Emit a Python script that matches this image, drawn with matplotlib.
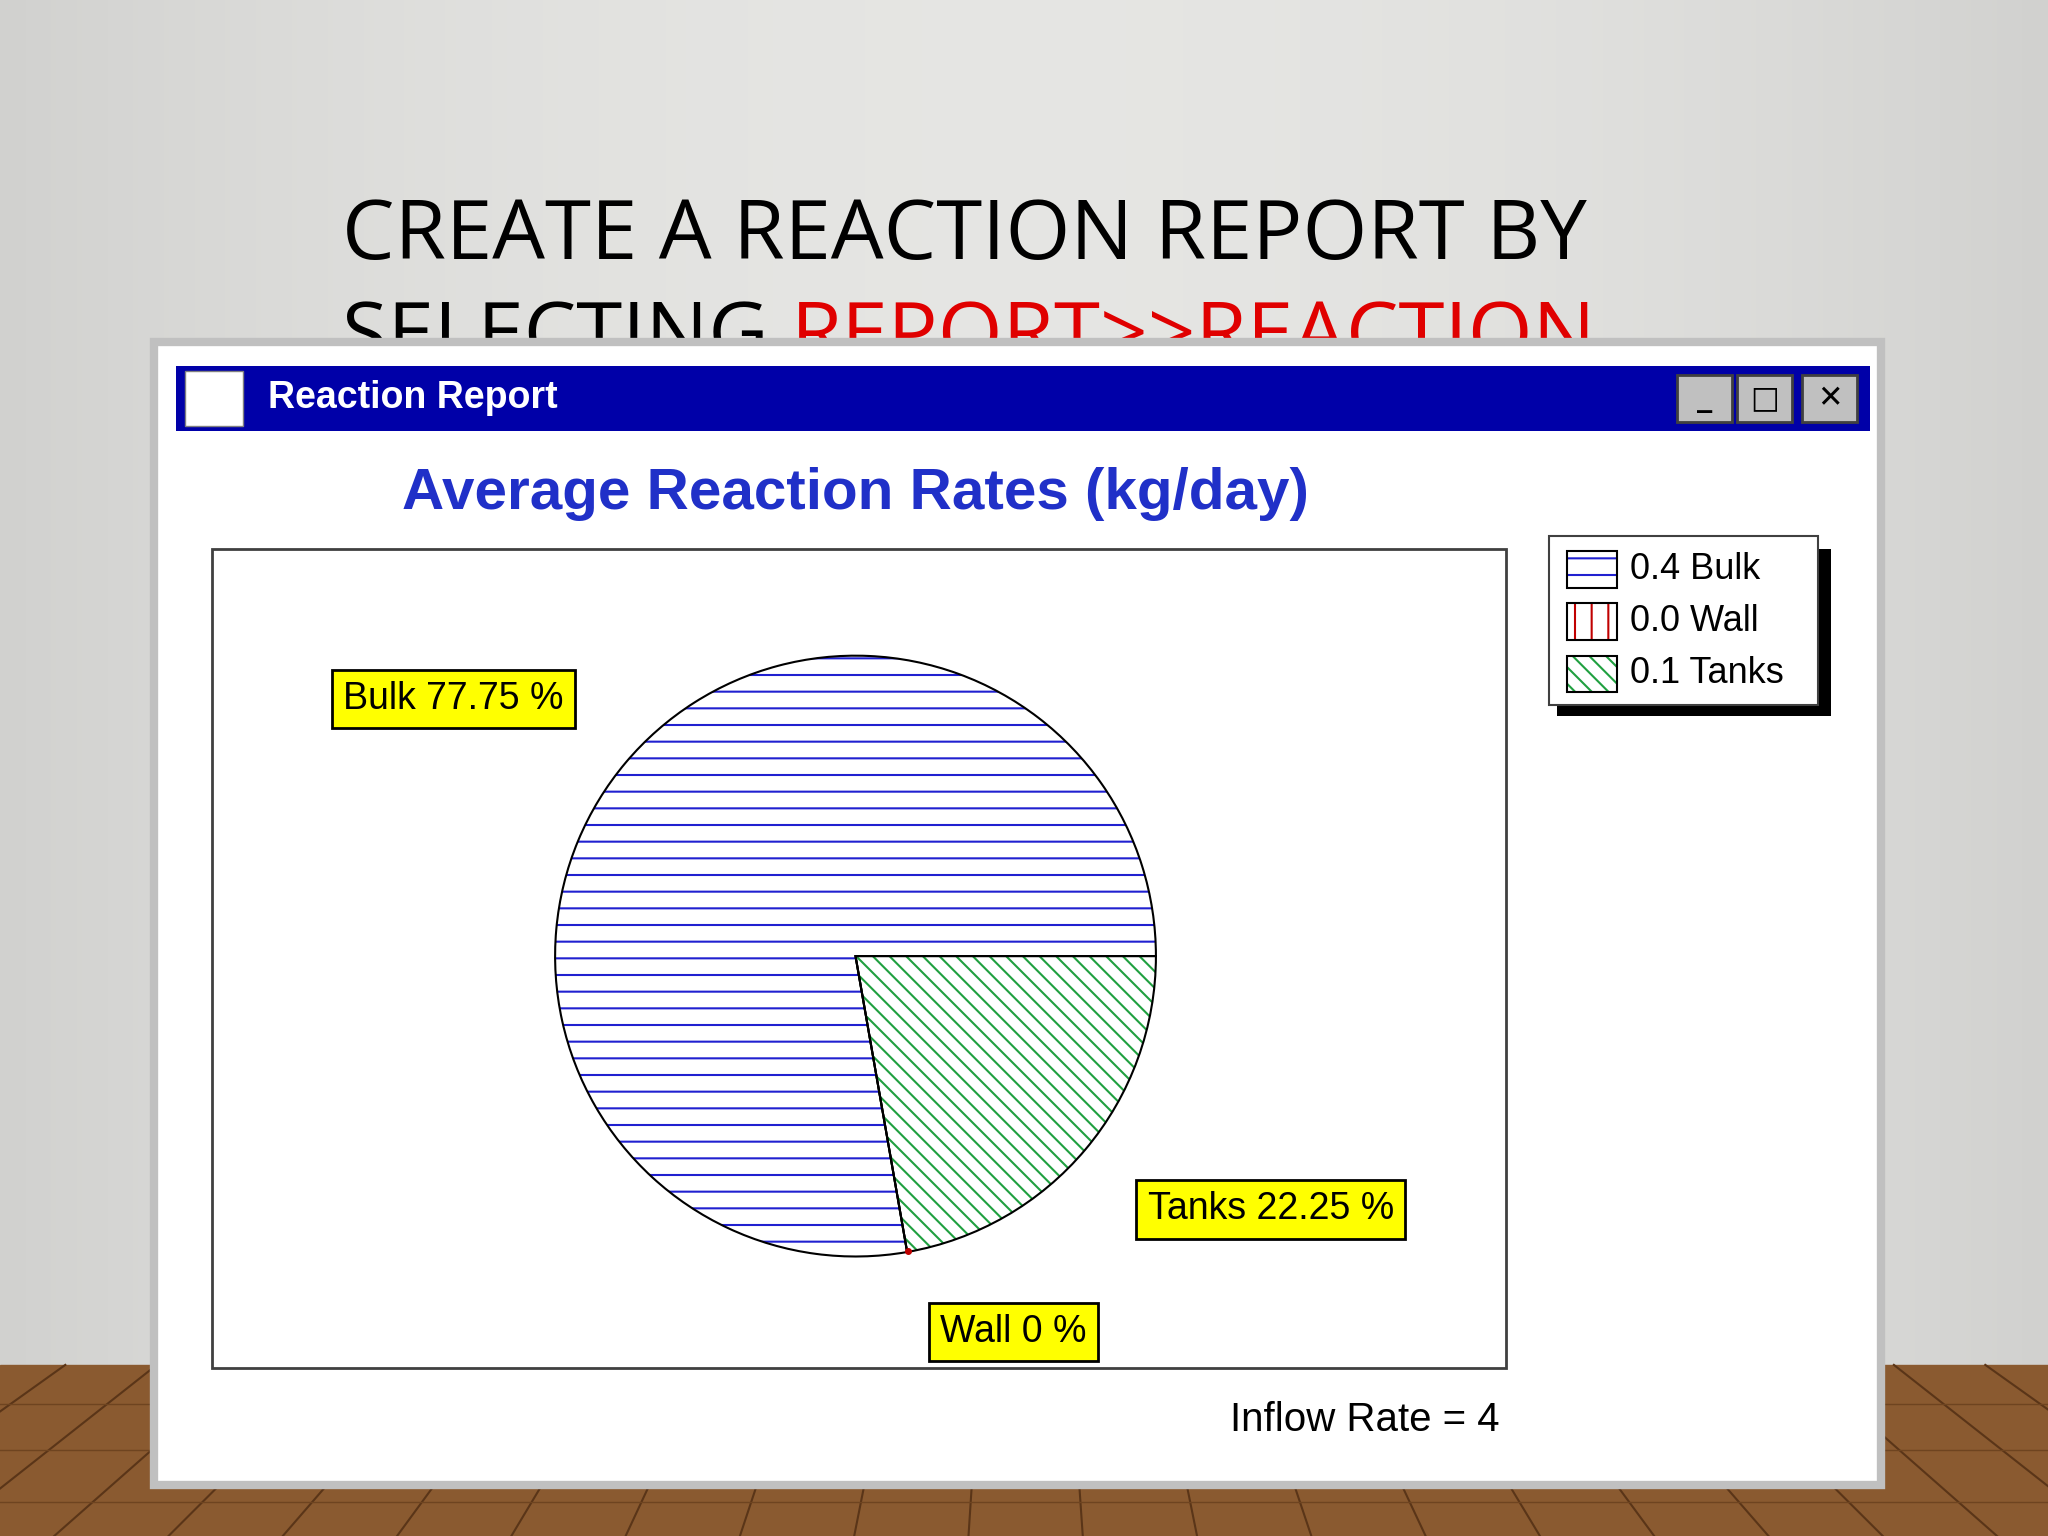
import matplotlib
matplotlib.use("Agg")
import matplotlib.pyplot as plt
import numpy as np
from matplotlib.patches import Rectangle

# data
labels = ["Wall", "Tanks", "Bulk"]
shares = [0.0, 22.25, 77.75]
rates = {"Bulk": 0.4, "Wall": 0.0, "Tanks": 0.1}
hatches = {"Bulk": "-", "Wall": "|", "Tanks": "\\\\"}
hcolors = {"Bulk": "#2020d0", "Wall": "#c00000", "Tanks": "#20a040"}
inflow_rate = 4

W, H = 1568, 1176
fig = plt.figure(figsize=(20.48, 15.36), dpi=100)
ax = fig.add_axes([0, 0, 1, 1])
ax.set_xlim(0, W)
ax.set_ylim(0, H)
ax.axis("off")
Y = lambda y: H - y

# slide background
xs = np.linspace(-1, 1, 400)
g = 0.90 - 0.08 * xs[None, :] ** 2 + np.zeros((2, 1))
ax.imshow(np.dstack([g, g, g * 0.99]), extent=[0, W, Y(1045), H], aspect="auto", zorder=0)
ax.add_patch(Rectangle((0, 0), W, Y(1045), color="#8a5a30", zorder=0))
for x0 in range(-300, W + 300, 70):
    ax.plot([x0, x0 + (x0 - W / 2) * 0.25], [Y(1045), 0], color="#5a3518", lw=1.5, zorder=0)
for yy in [1075, 1110, 1150]:
    ax.plot([0, W], [Y(yy), Y(yy)], color="#6e4420", lw=1, zorder=0)

tf = dict(fontsize=60, family="Open Sans", zorder=1)
ax.text(262, Y(182), "CREATE A REACTION REPORT BY", va="center", color="black", **tf)
t = ax.text(262, Y(260), "SELECTING ", va="center", color="black", **tf)
ax.annotate("REPORT>>REACTION", xycoords=t, xy=(1, 0), va="bottom", color="#e00000", **tf)

# window
ax.add_patch(Rectangle((118, Y(1137)), 1322, 875, facecolor="white", edgecolor="#c0c0c0", lw=6, zorder=2))
ax.add_patch(Rectangle((135, Y(330)), 1297, 50, facecolor="#0000a8", zorder=3))
ax.text(205, Y(305), "Reaction Report", color="white", fontsize=27, weight="bold",
        family="Liberation Sans", va="center", zorder=4)
ax.add_patch(Rectangle((142, Y(326)), 44, 42, facecolor="white", edgecolor="#808080", zorder=4))
for x0, s in [(1284, "_"), (1330, "□"), (1380, "✕")]:
    ax.add_patch(Rectangle((x0, Y(323)), 42, 36, facecolor="#c0c0c0", edgecolor="#404040", lw=2, zorder=4))
    ax.text(x0 + 21, Y(305), s, ha="center", va="center", fontsize=22, weight="bold", zorder=5)

ax.text(655, Y(378), "Average Reaction Rates (kg/day)", color="#2030c8", fontsize=42,
        weight="bold", family="Liberation Sans", ha="center", va="center", zorder=4)
ax.add_patch(Rectangle((162, Y(1047)), 991, 627, facecolor="white", edgecolor="#404040", lw=2, zorder=3))

# pie
plt.rcParams["hatch.linewidth"] = 1.5
cx, cy, r = 655, Y(732), 230
w1, _ = ax.pie(shares, center=(cx, cy), radius=r, startangle=-80.1, frame=True)
for w, lab in zip(w1, labels):
    w.set_facecolor("white"); w.set_hatch(hatches[lab]); w.set_edgecolor(hcolors[lab])
    w.set_linewidth(0); w.set_zorder(4)
w2, _ = ax.pie(shares, center=(cx, cy), radius=r, startangle=-80.1, frame=True,
               wedgeprops=dict(fill=False, edgecolor="black", lw=1.5))
for w in w2:
    w.set_zorder(5)
ax.set_xlim(0, W); ax.set_ylim(0, H); ax.axis("off")
ax.plot([cx + 40], [Y(958)], "o", color="#c00000", ms=4, zorder=6)

bx = dict(boxstyle="square,pad=0.3", facecolor="#ffff00", edgecolor="black", lw=2)
lf = dict(fontsize=27, family="Liberation Sans", va="center", ha="center", bbox=bx, zorder=6)
ax.text(347, Y(535), f"Bulk {shares[2]:.2f} %", **lf)
ax.text(973, Y(926), f"Tanks {shares[1]:.2f} %", **lf)
ax.text(776, Y(1020), f"Wall {shares[0]:g} %", **lf)

# legend
ax.add_patch(Rectangle((1192, Y(548)), 210, 128, facecolor="black", zorder=3))
ax.add_patch(Rectangle((1186, Y(540)), 206, 130, facecolor="white", edgecolor="#404040", lw=1.5, zorder=4))
for i, lab in enumerate(["Bulk", "Wall", "Tanks"]):
    yy = Y(436 + 40 * i)
    ax.add_patch(Rectangle((1200, yy - 14), 38, 28, facecolor="white", hatch=hatches[lab],
                           edgecolor=hcolors[lab], lw=0, zorder=5))
    ax.add_patch(Rectangle((1200, yy - 14), 38, 28, fill=False, edgecolor="black", lw=1.5, zorder=6))
    ax.text(1248, yy, f"{rates[lab]:.1f} {lab}", fontsize=26, family="Liberation Sans",
            va="center", zorder=6)

ax.text(1148, Y(1087), f"Inflow Rate = {inflow_rate}", fontsize=29, family="Liberation Sans",
        ha="right", va="center", zorder=4)

fig.savefig("out.png", dpi=100)
